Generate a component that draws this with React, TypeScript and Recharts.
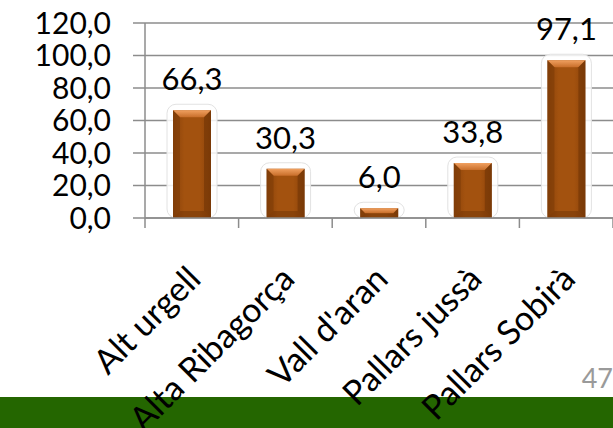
import { Bar, BarChart, CartesianGrid, LabelList, XAxis, YAxis } from 'recharts'

const comarques = ['Alt urgell', 'Alta Ribagorça', "Vall d'aran", 'Pallars jussà', 'Pallars Sobirà']
const valors = [66.3, 30.3, 6.0, 33.8, 97.1]
const yTicks = [0, 20, 40, 60, 80, 100, 120]
const pageNumber = '47'

const data = comarques.map((name, i) => ({ name, value: valors[i] }))

const W = 613
const H = 428
const PLOT_LEFT = 145
const BAND = (W - PLOT_LEFT) / comarques.length
const GRID = '#8c8c8c'

const fmt = (v: number) => Number(v).toFixed(1).replace('.', ',')

// bevelled bar with a soft rounded halo behind it
const BevelBar = (props: any) => {
  const { x, y, width, height } = props
  if (!height || height <= 0) return null
  const b = Math.min(7, height / 2)
  return (
    <g>
      <rect x={x - 6} y={y - 6} width={width + 12} height={height + 6} rx={9} fill="rgba(255,255,255,0.85)" stroke="#e2e2e2" />
      <rect x={x} y={y} width={width} height={height} fill="url(#barBody)" />
      <polygon points={`${x},${y} ${x + width},${y} ${x + width - b},${y + b} ${x + b},${y + b}`} fill="url(#barTop)" />
      <polygon points={`${x},${y} ${x + b},${y + b} ${x + b},${y + height - b} ${x},${y + height}`} fill="#7a3a08" opacity={0.55} />
      <polygon points={`${x + width},${y} ${x + width - b},${y + b} ${x + width - b},${y + height - b} ${x + width},${y + height}`} fill="#6e3306" opacity={0.55} />
      <polygon points={`${x},${y + height} ${x + b},${y + height - b} ${x + width - b},${y + height - b} ${x + width},${y + height}`} fill="#6a3005" opacity={0.45} />
    </g>
  )
}

const CategoryTick = (props: any) => {
  const { x, y, payload, index } = props
  const half = BAND / 2
  const tx = x + 11
  const ty = y + 63
  return (
    <g>
      <line x1={x - half} y1={y} x2={x - half} y2={y + 10} stroke={GRID} strokeWidth={1.5} />
      {index === comarques.length - 1 ? (
        <line x1={x + half} y1={y} x2={x + half} y2={y + 10} stroke={GRID} strokeWidth={1.5} />
      ) : null}
      <text x={tx} y={ty} transform={`rotate(-45, ${tx}, ${ty})`} textAnchor="end" fontSize={34} fill="#000">
        {payload.value}
      </text>
    </g>
  )
}

export default function App() {
  return (
    <div
      style={{
        position: 'absolute',
        left: 0,
        top: 0,
        width: W,
        height: H,
        overflow: 'hidden',
        background: '#fff',
        fontFamily: 'Lato, "Noto Sans", sans-serif',
      }}
    >
      <div style={{ position: 'absolute', left: 0, top: 397, width: W, height: H - 397, background: '#246600' }} />
      <div style={{ position: 'absolute', right: 0, top: 361, fontSize: 27, color: '#9a9a9a' }}>{pageNumber}</div>
      <div style={{ position: 'absolute', left: 0, top: 0 }}>
        <BarChart width={W} height={H} data={data} margin={{ top: 23, right: 0, bottom: 0, left: 0 }}>
          <defs>
            <linearGradient id="barBody" x1="0" x2="1" y1="0" y2="0">
              <stop offset="0%" stopColor="#8a420a" />
              <stop offset="30%" stopColor="#a3520f" />
              <stop offset="70%" stopColor="#a3520f" />
              <stop offset="100%" stopColor="#8a420a" />
            </linearGradient>
            <linearGradient id="barTop" x1="0" x2="0" y1="0" y2="1">
              <stop offset="0%" stopColor="#f0a060" />
              <stop offset="100%" stopColor="#c86e2a" />
            </linearGradient>
          </defs>
          <CartesianGrid horizontal vertical={false} stroke={GRID} strokeWidth={1.5} />
          <XAxis
            dataKey="name"
            interval={0}
            height={H - 218}
            axisLine={{ stroke: GRID, strokeWidth: 1.5 }}
            tickLine={false}
            tickSize={0}
            tickMargin={0}
            tick={<CategoryTick />}
          />
          <YAxis
            width={PLOT_LEFT}
            domain={[0, 120]}
            ticks={yTicks}
            interval={0}
            tickFormatter={fmt}
            axisLine={{ stroke: GRID, strokeWidth: 1.5 }}
            tickLine={{ stroke: GRID, strokeWidth: 1.5 }}
            tickSize={12}
            tickMargin={22}
            tick={{ fill: '#000', fontSize: 30 }}
          />
          <Bar dataKey="value" barSize={38} shape={<BevelBar />} isAnimationActive={false}>
            <LabelList dataKey="value" position="top" offset={20} formatter={(v: any) => fmt(v)} fill="#000" fontSize={31} />
          </Bar>
        </BarChart>
      </div>
    </div>
  )
}
